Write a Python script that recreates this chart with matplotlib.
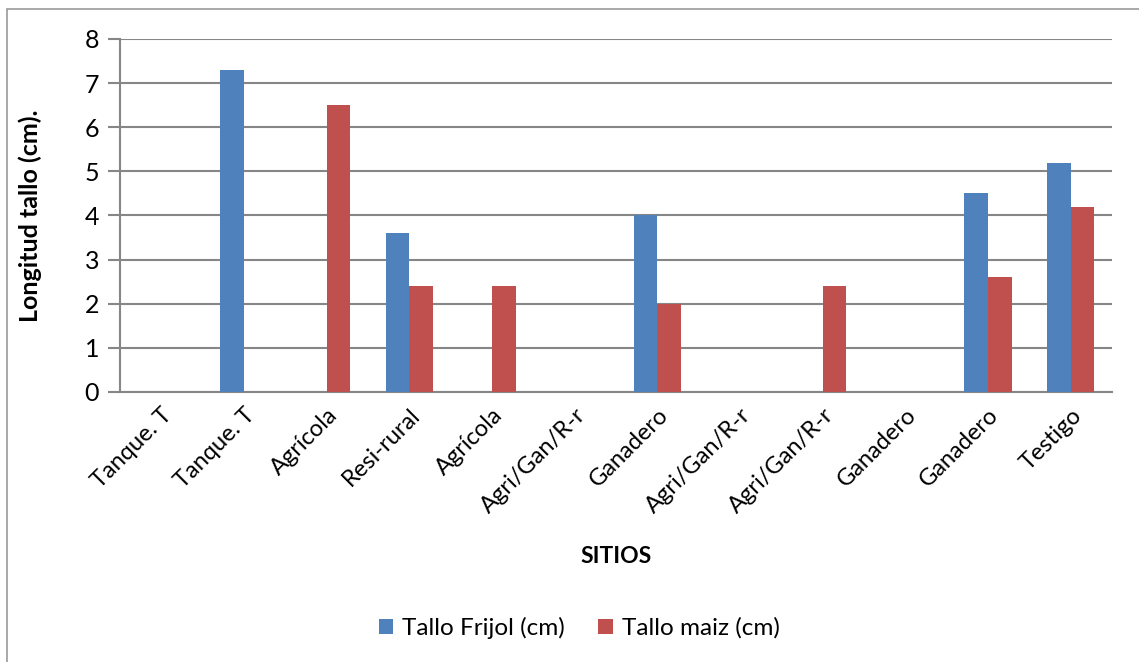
import numpy as np
import matplotlib
matplotlib.use('Agg')
import matplotlib.pyplot as plt
from matplotlib.patches import Rectangle

plt.rcParams['font.family'] = ['Lato', 'DejaVu Sans']

# sites and stem lengths (cm)
sitios = ['Tanque. T', 'Tanque. T', 'Agrícola', 'Resi-rural', 'Agrícola',
          'Agri/Gan/R-r', 'Ganadero', 'Agri/Gan/R-r', 'Agri/Gan/R-r',
          'Ganadero', 'Ganadero', 'Testigo']
frijol = [0, 7.3, 0, 3.6, 0, 0, 4.0, 0, 0, 0, 4.5, 5.2]
maiz = [0, 0, 6.5, 2.4, 2.4, 0, 2.0, 0, 2.4, 0, 2.6, 4.2]

colors = ['#4F81BD', '#C0504D']
grid_color = '#868686'

fig = plt.figure(figsize=(11.39, 6.62), dpi=100)
ax = fig.add_axes([120 / 1139, 1 - 392 / 662, 992 / 1139, 353 / 662])

# outer chart border
fig.patches.append(Rectangle((7 / 1139, -0.01), 1.1, 1 - 9 / 662 + 0.01,
                             transform=fig.transFigure, fill=False,
                             edgecolor='#9a9a9a', linewidth=1.2))

x = np.arange(len(sitios))
w = 0.285
ax.bar(x - w / 2, frijol, w, color=colors[0], label='Tallo Frijol (cm)', zorder=3)
ax.bar(x + w / 2, maiz, w, color=colors[1], label='Tallo maiz (cm)', zorder=3)

ax.set_xlim(-0.5, len(sitios) - 0.5)
ax.set_ylim(0, 8)
ax.set_yticks(range(0, 9))
ax.yaxis.grid(True, color=grid_color, linewidth=1.5, zorder=0)
ax.set_axisbelow(True)

for s in ['top', 'right']:
    ax.spines[s].set_visible(False)
ax.spines['left'].set_color(grid_color)
ax.spines['bottom'].set_color(grid_color)
ax.spines['left'].set_linewidth(1.5)
ax.spines['bottom'].set_linewidth(1.5)

ax.tick_params(axis='y', length=9, width=1.5, color=grid_color, labelsize=18, pad=6)
ax.tick_params(axis='x', length=0, labelsize=17, pad=9)
ax.set_xticks(x)
ax.set_xticklabels(sitios, rotation=45, ha='right', rotation_mode='anchor')

ax.set_ylabel('Longitud tallo (cm).', fontsize=18, fontweight='bold')
ax.yaxis.set_label_coords(-0.079, 0.5)
ax.set_xlabel('SITIOS', fontsize=16.5, fontweight='bold')
ax.xaxis.set_label_coords(0.5, -0.435)

ax.legend(loc='center', bbox_to_anchor=(579 / 1139, 1 - 628 / 662),
          bbox_transform=fig.transFigure, ncol=2, frameon=False, fontsize=17.5,
          handlelength=0.6, handleheight=0.6, columnspacing=1.4, handletextpad=0.35)

fig.savefig('out.png', dpi=100)
